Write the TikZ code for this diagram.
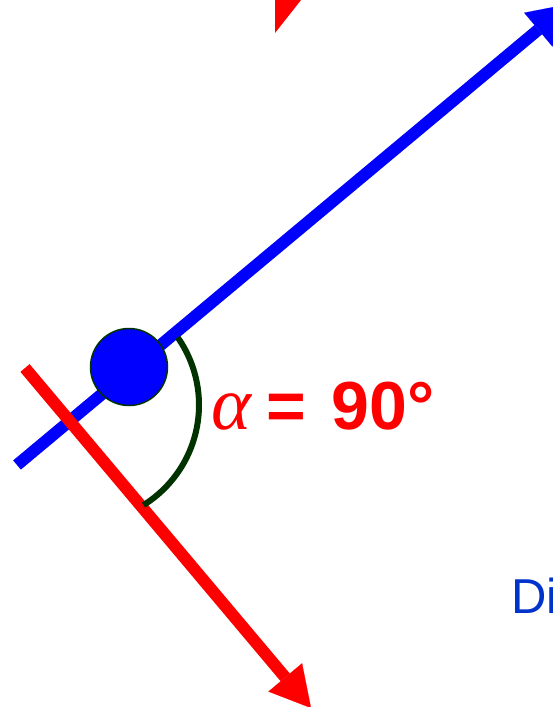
\documentclass[tikz,border=0pt]{standalone}
\usepackage{fontspec}
\setmainfont{Liberation Sans}
\newfontfamily\greekfont{Liberation Serif}
\usetikzlibrary{arrows.meta,positioning}
\definecolor{darkgreen}{RGB}{0,51,0}
\definecolor{diblue}{RGB}{0,51,204}

\begin{document}
\begin{tikzpicture}[
    x=1pt, y=-1pt,
    >={Triangle[length=40pt, width=44pt, line width=0.1pt]},
    vec/.style={->, line width=12pt},
    mass/.style={circle, draw=darkgreen, line width=1.5pt, fill=blue,
        minimum size=77pt, inner sep=0pt},
    anglearc/.style={draw=darkgreen, line width=6pt},
    anglbl/.style={text=red, inner sep=0pt, anchor=base west,
        font=\fontsize{68}{68}\selectfont\bfseries},
    dilbl/.style={text=diblue, inner sep=0pt, anchor=base west,
        font=\fontsize{49}{49}\selectfont}
]
\useasboundingbox (0,0) rectangle (553,707);

\coordinate (B0) at (17,465);
\coordinate (B1) at (569,4);
\coordinate (R0) at (25,368);
\coordinate (R1) at (311,708);
\coordinate (pivot) at (81,405);

\draw[vec, blue] (B0) -- (B1);
\draw[vec, red] (R0) -- (R1);
\fill[red] (275,-5) -- (275,33) -- (305,-5) -- cycle;

\node[mass] (ball) at (129,367) {};
\draw[anglearc] (pivot) ++(-35:118) arc[start angle=-35, end angle=58, radius=118];

\node[anglbl] (alpha) at (211,429)
    {{\greekfont\itshape\mdseries\fontsize{76}{76}\selectfont α}\hspace{15pt}=\hspace{26pt}90°};
\node[dilbl] (di) at (511,613) {Di};

\end{tikzpicture}
\end{document}
